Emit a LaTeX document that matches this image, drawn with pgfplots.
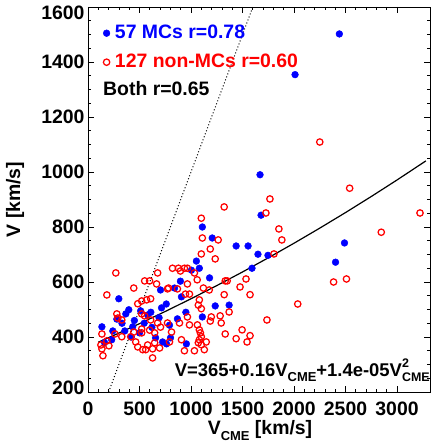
\documentclass[border=0pt]{standalone}
\usepackage{fontspec}
\setmainfont{Liberation Sans}
\usepackage{pgfplots}
\pgfplotsset{compat=1.18}
\definecolor{mcblue}{RGB}{0,0,255}
\definecolor{nmcred}{RGB}{255,0,0}
\newcommand\bigf{\fontsize{19.5}{22}\selectfont\bfseries}
\newcommand\eqf{\fontsize{18.5}{22}\selectfont\bfseries}
\newcommand\sub[1]{\raisebox{-0.28em}{\fontsize{13}{13}\selectfont #1}}
\newcommand\supsub[2]{\rlap{\raisebox{0.5em}{\fontsize{12.5}{13}\selectfont #1}}\raisebox{-0.28em}{\fontsize{12.5}{13}\selectfont #2}}

\begin{document}
\begin{tikzpicture}
\path[use as bounding box] (-88bp,-55bp) rectangle (347bp,392bp);
\begin{axis}[
  scale only axis,
  width=342bp, height=385bp,
  xmin=0, xmax=3320, ymin=200, ymax=1600,
  xtick={0,500,...,3000}, ytick={200,400,...,1600},
  yticklabels={\raisebox{-2bp}[0pt][0pt]{200},400,600,800,1000,1200,1400,\raisebox{-13bp}[0pt][0pt]{1600}},
  minor x tick num=4, minor y tick num=3,
  tick align=inside,
  major tick length=6bp, minor tick length=3bp,
  axis line style={line width=0.9bp},
  every tick/.style={black, line width=0.8bp},
  ticklabel style={font=\bigf},
  xticklabel style={yshift=-6bp},
  /pgf/number format/assume math mode=true,
  /pgf/number format/set thousands separator={},
  xlabel={V\sub{CME} [km/s]},
  ylabel={V [km/s]},
  label style={font=\bigf},
  xlabel style={at={(axis description cs:0.503,-0.1)}, anchor=center},
  ylabel style={at={(axis description cs:-0.2135,0.5)}, anchor=center},
  legend image code/.code={\draw[#1] plot coordinates {(0bp,0bp)};},
  legend style={at={(axis description cs:0,1)}, anchor=north west,
    xshift=15bp, yshift=-16bp, draw=none, fill=none, inner sep=0pt,
    row sep=9bp, column sep=3bp,
    font=\bigf,
    nodes={inner sep=2bp, text height=13bp, text depth=3bp}},
  legend cell align=left,
]
% MCs
\addplot[only marks, mark=*, mark size=3.4bp, color=mcblue, mark options={draw=mcblue, fill=mcblue}] coordinates {
(2440,1502) (2010,1354) (1670,990) (1680,843) (1110,800) (1206,760) (1438,731)
(1554,731) (1650,701) (1747,697) (1081,650) (1592,650) (2403,672) (2490,742)
(1235,513) (1370,516) (1110,473) (1052,676) (1004,643) (897,603) (704,571)
(299,539) (714,506) (396,499) (367,484) (511,495) (579,480) (135,437) (241,422)
(357,422) (434,437) (656,397) (724,382) (762,375) (907,546) (868,466) (791,443)
(801,397) (955,375) (160,380) (330,450) (450,460) (610,490) (230,390) (500,415)
(620,435) (690,470) (840,578) (950,490) (1180,615) (420,400) (545,450) (280,465)
(760,520)
};
\addlegendentry[text=mcblue]{57 MCs r=0.78}
% non-MCs
\addplot[only marks, mark=o, mark size=3.2bp, color=nmcred, mark options={line width=1.25bp}] coordinates {
(2250,1109) (2540,941) (1766,902) (1727,851) (1322,873) (1853,793) (1882,753)
(1100,832) (1110,760) (1264,753) (1187,720) (1235,684) (1100,702) (1805,702)
(2847,781) (3223,851) (2384,600) (2509,611) (2036,520) (1737,462) (1534,611)
(1476,582) (1573,554) (1351,604) (1332,604) (1322,554) (1177,571) (1370,491)
(1283,477) (1293,451) (1197,473) (1187,458) (1496,426) (1332,411) (1438,394)
(1573,405) (1544,382) (1148,382) (1100,503)
(820,650) (878,650) (897,640) (936,650) (965,650) (1033,633) (965,593) (782,578) (868,575)
(270,633) (550,604) (598,604) (676,633) (666,593) (444,578) (772,575)
(183,553) (483,521) (521,531) (569,535) (608,539) (280,484) (290,469) (328,462)
(521,484) (550,477) (608,462) (676,451) (772,451) (135,411) (261,411) (328,401)
(444,418) (415,401) (521,429) (521,415) (598,425) (647,415) (704,436) (125,371)
(135,357) (183,386) (203,368) (463,382) (483,364) (531,354) (560,354) (627,357)
(579,371) (647,379) (695,360) (627,324)
(946,556) (985,556) (1081,535) (1071,516) (965,473) (888,451) (985,444) (1062,444)
(1081,426) (1091,415) (811,418) (907,390) (1081,390) (1071,379) (936,350) (1033,350)
(1129,354) (791,382) (1120,578) (1100,401) (1100,372) (145,332) (1060,608)
};
\addlegendentry[text=nmcred]{127 non-MCs r=0.60}
% V = V_CME
\addplot[black, line width=1bp, dash pattern=on 1bp off 2.2bp, forget plot] coordinates {(200,200) (1600,1600)};
% fit V=365+0.16V+1.4e-5V^2
\addplot[black, line width=1.2bp, forget plot] coordinates {
(100,381.1) (300,414.3) (500,448.5) (750,492.9) (1000,539) (1250,586.9)
(1500,636.5) (1750,687.9) (2000,741) (2250,795.9) (2500,852.5) (2750,910.9)
(3000,971) (3280,1040.4)
};
\node[anchor=west, font=\bigf, inner sep=0pt] at (axis cs:145,1305) {Both r=0.65};
\node[anchor=west, font=\eqf, inner sep=0pt] at (axis cs:842,280)
  {V=365+0.16V\sub{CME}+1.4e-05V\supsub{2}{CME}};
\end{axis}
\end{tikzpicture}
\end{document}
